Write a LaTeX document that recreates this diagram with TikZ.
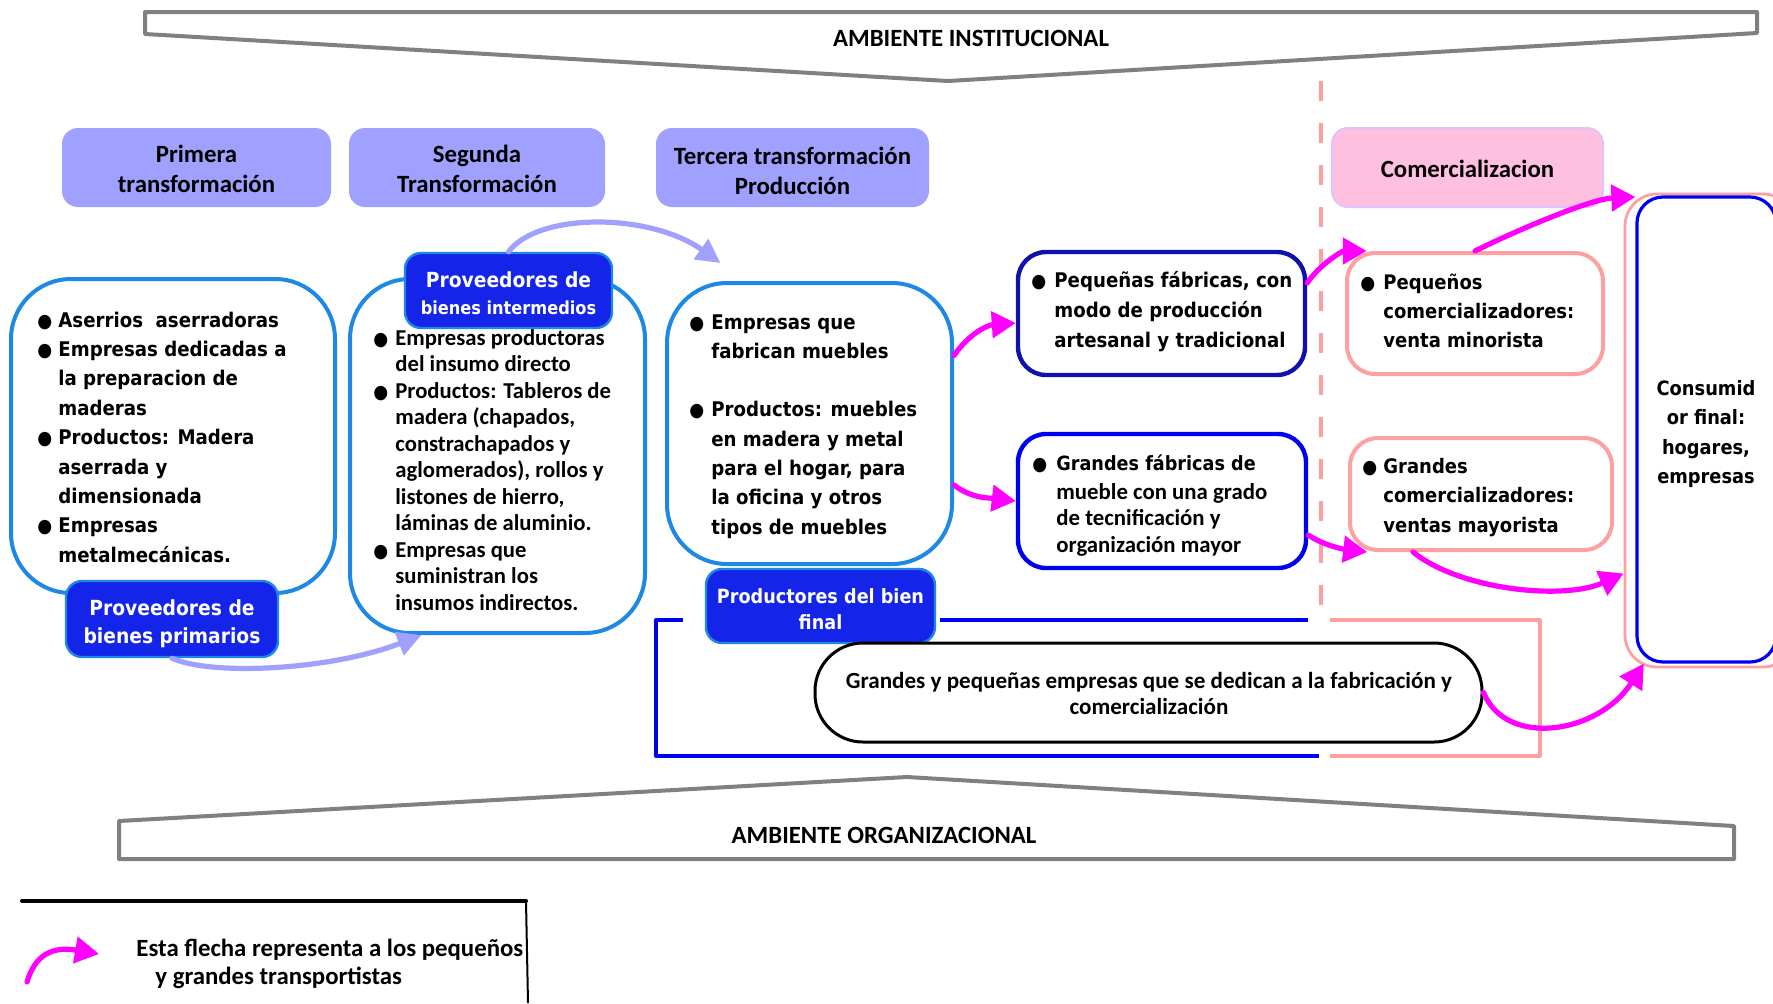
\documentclass[tikz,border=0pt]{standalone}
\usepackage{fontspec}
\setmainfont{Carlito}
\newfontfamily\tahfont{DejaVuSansCondensed-Bold.ttf}[BoldFont=DejaVuSansCondensed-Bold.ttf]
\usetikzlibrary{arrows.meta}

\definecolor{hdrlav}{RGB}{160,160,255}
\definecolor{boxblue}{RGB}{30,136,229}
\definecolor{lblfill}{RGB}{20,36,232}
\definecolor{navyedge}{RGB}{16,16,170}
\definecolor{pureblue}{RGB}{0,0,240}
\definecolor{pinkedge}{RGB}{255,160,160}
\definecolor{comfill}{RGB}{255,192,224}
\definecolor{comedge}{RGB}{224,192,255}
\definecolor{magen}{RGB}{255,0,255}
\definecolor{bannergray}{RGB}{128,128,128}

% round bullet used in all lists
\newcommand\bul{{\tahfont\fontsize{9.5}{9.5}\selectfont ●}}

\begin{document}
\bfseries
\begin{tikzpicture}[x=0.5pt,y=-0.5pt,line join=round,
  hdrbox/.style={fill=hdrlav,rounded corners=8pt,inner sep=0pt,minimum height=39.5pt},
  bigbox/.style={draw=boxblue,line width=2pt,fill=white,rounded corners=30pt,inner sep=0pt},
  lblbox/.style={draw=boxblue,line width=1.2pt,fill=lblfill,rounded corners=8pt,inner sep=0pt},
  fabbox/.style={line width=2.2pt,fill=white,rounded corners=14pt,inner sep=0pt},
  combox/.style={draw=pinkedge,line width=2pt,fill=white,rounded corners=14pt,inner sep=0pt},
  lt/.style={inner sep=0pt,anchor=base west},
  ct/.style={inner sep=0pt,anchor=base},
  tf/.style 2 args={font=\tahfont\fontsize{#1}{#2}\selectfont},
  cf/.style 2 args={font=\fontsize{#1}{#2}\selectfont},
  trans/.style={magen,line width=2.6pt,line cap=round,-{Triangle[length=12pt,width=13pt]}},
  supply/.style={hdrlav,line width=2.6pt,line cap=round,-{Triangle[length=12pt,width=12pt]}},
  banner/.style={draw=bannergray,line width=2pt}]
\useasboundingbox (0,0) rectangle (1773,1003);

% institutional environment banner
\draw[banner] (145,12) -- (1757,12) -- (1757,33) -- (948,81) -- (145,34) -- cycle;
\node[ct,cf={12.4}{15}] (instTxt) at (971,46) {AMBIENTE INSTITUCIONAL};

% stage headers
\node[hdrbox,minimum width=134.5pt] (hdrPrim) at (196.5,167.5) {};
\node[ct,cf={12.4}{15}] (hdrPrimTxt) at (196.5,162) {\begin{tabular}[t]{@{}c@{}}Primera\\transformación\end{tabular}};
\node[hdrbox,minimum width=128pt] (hdrSeg) at (477,167.5) {};
\node[ct,cf={12.4}{15}] (hdrSegTxt) at (477,162) {\begin{tabular}[t]{@{}c@{}}Segunda\\Transformación\end{tabular}};
\node[hdrbox,minimum width=136.5pt] (hdrTer) at (792.5,167.5) {};
\node[ct,cf={12.4}{15}] (hdrTerTxt) at (792.5,164) {\begin{tabular}[t]{@{}c@{}}Tercera transformación\\Producción\end{tabular}};
\node[hdrbox,minimum width=135.5pt,fill=comfill,draw=comedge,line width=1pt] (hdrCom) at (1467.5,167.5) {};
\node[ct,cf={12.4}{15}] (hdrComTxt) at (1467.5,177) {Comercializacion};

% divider between production and trade
\draw[pinkedge,line width=2.2pt,dash pattern=on 10pt off 11pt] (1321,81) -- (1321,622);

% first transformation
\node[bigbox,minimum width=162pt,minimum height=157pt] (prim) at (173,436) {};
\node[lt,tf={10.1}{14.7}] (primTxt) at (37,327) {\begin{tabular}[t]{@{}p{10.5pt}@{}l@{}}
\bul & Aserrios\ \ aserradoras\\
\bul & Empresas dedicadas a\\
 & la preparacion de\\
 & maderas\\
\bul & Productos: Madera\\
 & aserrada y\\
 & dimensionada\\
\bul & Empresas\\
 & metalmecánicas.
\end{tabular}};
\node[lblbox,minimum width=106pt,minimum height=38pt] (lblPrim) at (172,619) {};
\node[ct,text=white,tf={10.4}{14}] (lblPrimTxt) at (172,615) {\begin{tabular}[t]{@{}c@{}}Proveedores de\\bienes primarios\end{tabular}};

% second transformation
\node[bigbox,minimum width=147.5pt,minimum height=177pt] (inter) at (497.5,456) {};
\node[lt,cf={11.35}{13.25}] (interTxt) at (373,345) {\begin{tabular}[t]{@{}p{11pt}@{}l@{}}
\bul & Empresas productoras\\
 & del insumo directo\\
\bul & Productos: Tableros de\\
 & madera (chapados,\\
 & constrachapados y\\
 & aglomerados), rollos y\\
 & listones de hierro,\\
 & láminas de aluminio.\\
\bul & Empresas que\\
 & suministran los\\
 & insumos indirectos.
\end{tabular}};
\node[lblbox,minimum width=103.5pt,minimum height=37.5pt] (lblInter) at (508.5,290.5) {};
\node[ct,text=white,tf={10.4}{13.5}] (lblInterTxt) at (508.5,287) {\begin{tabular}[t]{@{}c@{}}Proveedores de\\{\fontsize{9}{9}\selectfont bienes intermedios}\end{tabular}};

% third transformation
\node[bigbox,minimum width=142.5pt,minimum height=140.5pt] (prod) at (809.5,423.5) {};
\node[lt,tf={10.1}{14.65}] (prodTxt) at (689,329) {\begin{tabular}[t]{@{}p{11pt}@{}l@{}}
\bul & Empresas que\\
 & fabrican muebles\\
 & \\
\bul & Productos: muebles\\
 & en madera y metal\\
 & para el hogar, para\\
 & la oficina y otros\\
 & tipos de muebles
\end{tabular}};
\node[lblbox,minimum width=114.5pt,minimum height=37pt] (lblProd) at (820.5,606) {};
\node[ct,text=white,tf={9.8}{13}] (lblProdTxt) at (820.5,603) {\begin{tabular}[t]{@{}c@{}}Productores del bien\\final\end{tabular}};

% factories
\node[fabbox,draw=navyedge,minimum width=143.5pt,minimum height=61.5pt] (pfab) at (1161.5,313.5) {};
\node[lt,tf={10.1}{15}] (pfabTxt) at (1031,287) {\begin{tabular}[t]{@{}p{11.5pt}@{}l@{}}
\bul & Pequeñas fábricas, con\\
 & modo de producción\\
 & artesanal y tradicional
\end{tabular}};
\node[fabbox,draw=pureblue,minimum width=144pt,minimum height=67pt] (gfab) at (1162,501) {};
\node[lt,cf={11.4}{13.25}] (gfabTxt) at (1032,470) {\begin{tabular}[t]{@{}p{12pt}@{}l@{}}
\bul & {\tahfont\fontsize{9.8}{9.8}\selectfont Grandes fábricas de}\\[1.3pt]
 & mueble con una grado\\
 & de tecnificación y\\
 & organización mayor
\end{tabular}};

% traders
\node[combox,minimum width=128pt,minimum height=60.5pt] (pcom) at (1475,313.5) {};
\node[lt,tf={10}{14.5}] (pcomTxt) at (1360,289) {\begin{tabular}[t]{@{}p{11.5pt}@{}l@{}}
\bul & Pequeños\\
 & comercializadores:\\
 & venta minorista
\end{tabular}};
\node[combox,minimum width=131pt,minimum height=56pt] (gcom) at (1481,494) {};
\node[lt,tf={10}{14.75}] (gcomTxt) at (1362,473) {\begin{tabular}[t]{@{}p{10.5pt}@{}l@{}}
\bul & Grandes\\
 & comercializadores:\\
 & ventas mayorista
\end{tabular}};

% final consumer
\node[draw=pinkedge,line width=1.4pt,rounded corners=16pt,minimum width=85pt,minimum height=236.5pt,inner sep=0pt] (consOut) at (1710,430.5) {};
\node[draw=pureblue,line width=1.6pt,rounded corners=13pt,fill=white,minimum width=69.5pt,minimum height=232.5pt,inner sep=0pt] (cons) at (1706.5,429.5) {};
\node[ct,tf={9.9}{14.75}] (consTxt) at (1706,395) {\begin{tabular}[t]{@{}c@{}}Consumid\\or final:\\hogares,\\empresas\end{tabular}};

% brackets around the mixed firms
\draw[pureblue,line width=2pt] (683,620) -- (656,620) -- (656,756) -- (1319,756);
\draw[pureblue,line width=2pt] (940,620) -- (1308,620);
\draw[pinkedge,line width=2pt] (1330,620) -- (1540,620) -- (1540,756) -- (1330,756);
\node[draw=black,line width=1.5pt,rounded corners=24pt,fill=white,minimum width=333.5pt,minimum height=49.5pt,inner sep=0pt] (mixed) at (1148.5,692.5) {};
\node[ct,cf={11.55}{13}] (mixedTxt) at (1149,688) {\begin{tabular}[t]{@{}c@{}}Grandes y pequeñas empresas que se dedican a la fabricación y\\comercialización\end{tabular}};

% supply flows
\draw[supply] (lblPrim.south) .. controls +(40,18) and +(-90,35) .. (inter.247);
\draw[supply] (lblInter.north) .. controls +(30,-40) and +(-70,-50) .. ([yshift=9pt]prod.122);

% transport flows
\draw[trans] ([yshift=34pt]prod.east) .. controls +(15,-22) and +(-28,2) .. ([yshift=-4.75pt]pfab.west);
\draw[trans] ([yshift=-30.75pt]prod.east) .. controls +(18,14) and +(-25,-3) .. (gfab.west);
\draw[trans] ([yshift=15.25pt]pfab.east) .. controls +(12,-18) and +(-25,0) .. (pcom.150);
\draw[trans] ([yshift=-17pt]gfab.east) .. controls +(15,10) and +(-25,-3) .. (gcom.207);
\draw[trans] (pcom.north) .. controls +(40,-20) and +(-45,2) .. (cons.107.3);
\draw[trans] ([xshift=-34pt]gcom.south) .. controls +(47,38) and +(-60,27) .. ([yshift=-71.5pt]consOut.west);
\draw[trans] (mixed.east) .. controls +(23,56) and +(-45,70) .. (cons.255);

% organizational environment banner
\draw[banner] (119,859) -- (119,821) -- (907,777) -- (1734,826) -- (1734,859) -- cycle;
\node[ct,cf={12.4}{15}] (orgTxt) at (884,843) {AMBIENTE ORGANIZACIONAL};

% legend
\draw[black,line width=2pt,line cap=round] (22,901) -- (526,901);
\draw[black,line width=1pt] (526,901) -- (528,1003);
\coordinate (legFrom) at (27,982);
\coordinate (legTo) at (99,954);
\draw[trans] (legFrom) .. controls (35,955) and (52,946) .. (legTo);
\node[lt,cf={12.4}{14}] (legTxt) at (136,956) {\begin{tabular}[t]{@{}l@{}}Esta flecha representa a los pequeños\\\hspace*{9.5pt}y grandes transportistas\end{tabular}};
\end{tikzpicture}
\end{document}
